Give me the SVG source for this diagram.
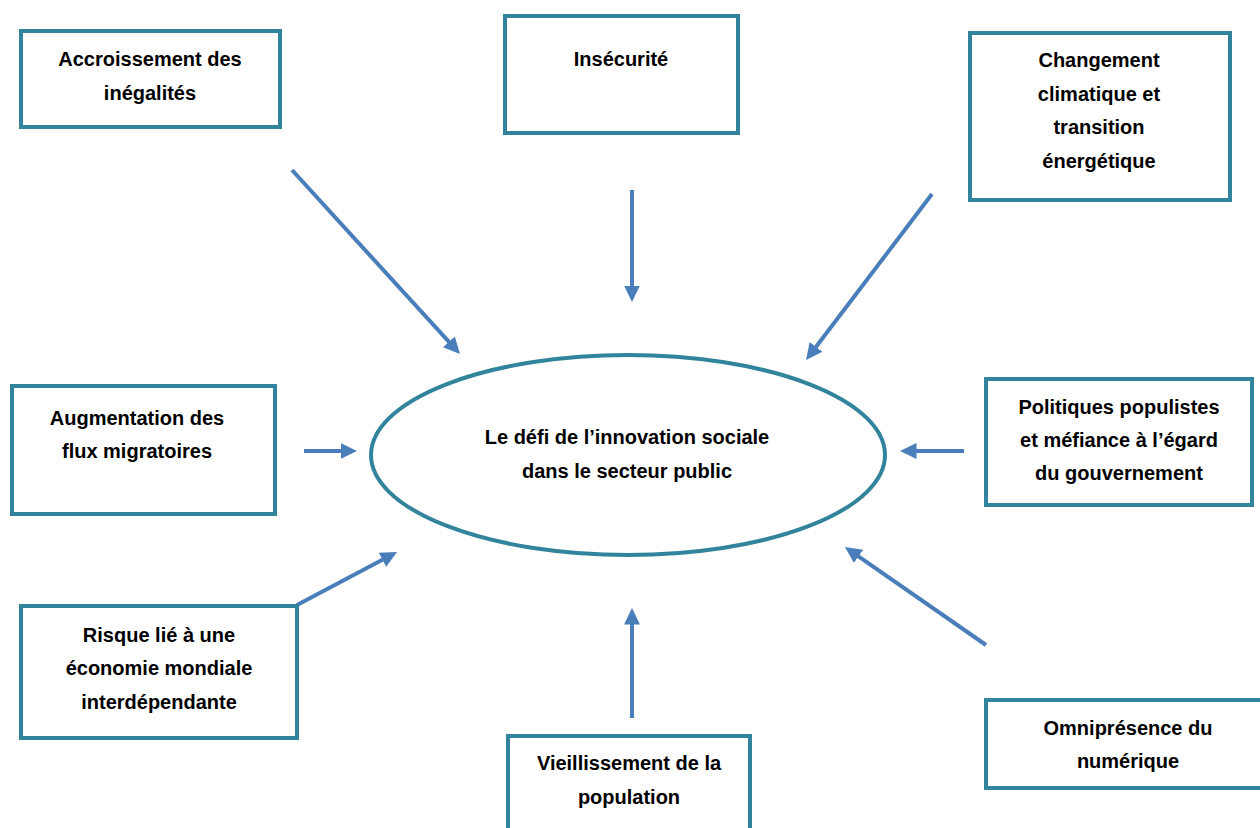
<svg xmlns="http://www.w3.org/2000/svg" width="1260" height="828" viewBox="0 0 1260 828">
<style>
.box{fill:#fff;stroke:#31849B;stroke-width:4;}
.t{font-family:"Liberation Sans",Arial,sans-serif;font-weight:bold;font-size:20px;fill:#000;text-anchor:middle;}
.c{stroke:#4A7EBB;stroke-width:4;fill:none;marker-end:url(#ah);}
</style>
<defs>
<marker id="ah" markerUnits="userSpaceOnUse" markerWidth="17" markerHeight="17" viewBox="0 0 17 17" refX="0.5" refY="8.5" orient="auto">
<path d="M0,0.5 L16.5,8.5 L0,16.5 Z" fill="#4A7EBB"/>
</marker>
</defs>
<rect width="1260" height="828" fill="#fff"/>
<g id="connectors">
<line class="c" x1="292" y1="170" x2="449.2" y2="342.2"/>
<line class="c" x1="632" y1="190" x2="632" y2="286"/>
<line class="c" x1="932" y1="194" x2="815.7" y2="347.3"/>
<line class="c" x1="304" y1="451" x2="341" y2="451"/>
<line class="c" x1="964" y1="451" x2="916" y2="451"/>
<line class="c" x1="297" y1="605" x2="382.9" y2="559.5"/>
<line class="c" x1="632" y1="718" x2="632" y2="624"/>
<line class="c" x1="986" y1="645" x2="858.1" y2="556.1"/>
</g>
<g id="center">
<ellipse class="box" cx="628" cy="455" rx="257" ry="100"/>
<text class="t" x="627" y="444">Le défi de l’innovation sociale</text>
<text class="t" x="627" y="478">dans le secteur public</text>
</g>
<g id="n1">
<rect class="box" x="21" y="31" width="259" height="96"/>
<text class="t" x="150" y="66">Accroissement des</text>
<text class="t" x="150" y="100">inégalités</text>
</g>
<g id="n2">
<rect class="box" x="505" y="16" width="233" height="117"/>
<text class="t" x="621" y="66">Insécurité</text>
</g>
<g id="n3">
<rect class="box" x="970" y="33" width="260" height="167"/>
<text class="t" x="1099" y="67">Changement</text>
<text class="t" x="1099" y="101">climatique et</text>
<text class="t" x="1099" y="134">transition</text>
<text class="t" x="1099" y="168">énergétique</text>
</g>
<g id="n4">
<rect class="box" x="12" y="386" width="263" height="128"/>
<text class="t" x="137" y="425">Augmentation des</text>
<text class="t" x="137" y="458">flux migratoires</text>
</g>
<g id="n5">
<rect class="box" x="986" y="379" width="266" height="126"/>
<text class="t" x="1119" y="414">Politiques populistes</text>
<text class="t" x="1119" y="447">et méfiance à l’égard</text>
<text class="t" x="1119" y="480">du gouvernement</text>
</g>
<g id="n6">
<rect class="box" x="21" y="606" width="276" height="132"/>
<text class="t" x="159" y="642">Risque lié à une</text>
<text class="t" x="159" y="675">économie mondiale</text>
<text class="t" x="159" y="709">interdépendante</text>
</g>
<g id="n7">
<rect class="box" x="508" y="736" width="242" height="110"/>
<text class="t" x="629" y="770">Vieillissement de la</text>
<text class="t" x="629" y="804">population</text>
</g>
<g id="n8">
<rect class="box" x="986" y="700" width="290" height="88"/>
<text class="t" x="1128" y="735">Omniprésence du</text>
<text class="t" x="1128" y="768">numérique</text>
</g>
</svg>
